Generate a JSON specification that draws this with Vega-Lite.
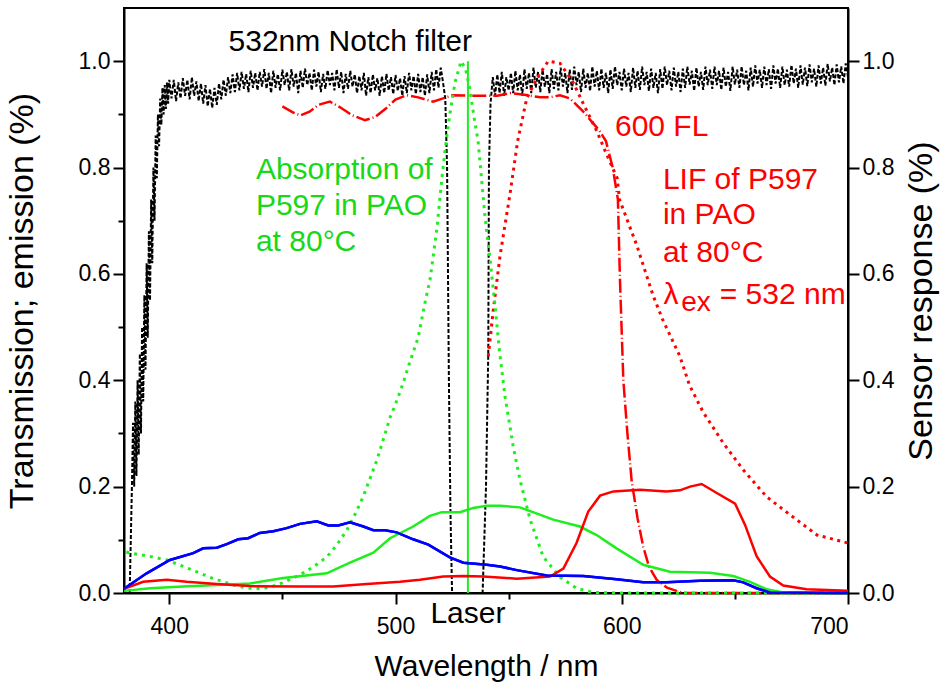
{
"$schema": "https://vega.github.io/schema/vega-lite/v6.json",
"width": 724, "height": 585,
"autosize": {"type": "none"},
"padding": {"left": 124, "top": 8, "right": 92, "bottom": 91},
"background": "white",
"config": {
  "font": "Liberation Sans",
  "view": {"stroke": "black", "strokeWidth": 2},
  "axis": {"grid": false, "domainColor": "black", "domainWidth": 2, "tickColor": "black", "tickWidth": 2, "labelColor": "black", "titleColor": "black", "labelFontSize": 23, "titleFontSize": 30, "titleFontWeight": "normal", "labelFont": "Liberation Sans", "titleFont": "Liberation Sans"}
},
"datasets": {
  "notch": [
    {"wl":382.5,"v":0.0},{"wl":383,"v":0.1},{"wl":383.5,"v":0.2},{"wl":384,"v":0.32},{"wl":384.5,"v":0.2},{"wl":385,"v":0.36},{"wl":385.5,"v":0.22},{"wl":386,"v":0.4},{"wl":386.5,"v":0.26},{"wl":387,"v":0.45},{"wl":387.5,"v":0.3},{"wl":388,"v":0.5},{"wl":388.5,"v":0.36},{"wl":389,"v":0.56},{"wl":389.5,"v":0.42},{"wl":390,"v":0.62},{"wl":390.5,"v":0.48},{"wl":391,"v":0.68},{"wl":391.5,"v":0.55},{"wl":392,"v":0.74},{"wl":392.5,"v":0.62},{"wl":393,"v":0.8},{"wl":393.5,"v":0.7},{"wl":394,"v":0.86},{"wl":394.5,"v":0.78},{"wl":395,"v":0.9},{"wl":395.5,"v":0.84},{"wl":396,"v":0.93},{"wl":396.5,"v":0.88},{"wl":397,"v":0.95},{"wl":397.5,"v":0.9},{"wl":398,"v":0.955},{"wl":398.5,"v":0.91},{"wl":399,"v":0.96},{"wl":399.5,"v":0.92},{"wl":400,"v":0.965},
    {"wl":401,"v":0.93},{"wl":402,"v":0.965},{"wl":403,"v":0.925},{"wl":404,"v":0.96},{"wl":405,"v":0.93},{"wl":406,"v":0.968},{"wl":407,"v":0.935},{"wl":408,"v":0.965},{"wl":409,"v":0.928},{"wl":410,"v":0.97},
    {"wl":411,"v":0.935},{"wl":412,"v":0.962},{"wl":413,"v":0.925},{"wl":414,"v":0.958},{"wl":415,"v":0.92},{"wl":416,"v":0.955},{"wl":417,"v":0.915},{"wl":418,"v":0.948},{"wl":419,"v":0.912},{"wl":420,"v":0.95},
    {"wl":421,"v":0.918},{"wl":422,"v":0.958},{"wl":423,"v":0.928},{"wl":424,"v":0.965},{"wl":425,"v":0.935},{"wl":426,"v":0.97},{"wl":427,"v":0.94},{"wl":428,"v":0.975},{"wl":429,"v":0.942},{"wl":430,"v":0.978},
    {"wl":431,"v":0.945},{"wl":432,"v":0.98},{"wl":433,"v":0.948},{"wl":434,"v":0.976},{"wl":435,"v":0.942},{"wl":436,"v":0.982},{"wl":437,"v":0.95},{"wl":438,"v":0.978},{"wl":439,"v":0.945},{"wl":440,"v":0.98},
    {"wl":441,"v":0.952},{"wl":442,"v":0.985},{"wl":443,"v":0.948},{"wl":444,"v":0.978},{"wl":445,"v":0.94},{"wl":446,"v":0.982},{"wl":447,"v":0.95},{"wl":448,"v":0.976},{"wl":449,"v":0.945},{"wl":450,"v":0.984},
    {"wl":451,"v":0.955},{"wl":452,"v":0.98},{"wl":453,"v":0.945},{"wl":454,"v":0.985},{"wl":455,"v":0.952},{"wl":456,"v":0.978},{"wl":457,"v":0.94},{"wl":458,"v":0.982},{"wl":459,"v":0.95},{"wl":460,"v":0.986},
    {"wl":461,"v":0.955},{"wl":462,"v":0.978},{"wl":463,"v":0.945},{"wl":464,"v":0.984},{"wl":465,"v":0.952},{"wl":466,"v":0.98},{"wl":467,"v":0.942},{"wl":468,"v":0.976},{"wl":469,"v":0.948},{"wl":470,"v":0.983},
    {"wl":471,"v":0.955},{"wl":472,"v":0.978},{"wl":473,"v":0.945},{"wl":474,"v":0.985},{"wl":475,"v":0.95},{"wl":476,"v":0.98},{"wl":477,"v":0.94},{"wl":478,"v":0.976},{"wl":479,"v":0.948},{"wl":480,"v":0.982},
    {"wl":481,"v":0.952},{"wl":482,"v":0.975},{"wl":483,"v":0.94},{"wl":484,"v":0.972},{"wl":485,"v":0.945},{"wl":486,"v":0.978},{"wl":487,"v":0.935},{"wl":488,"v":0.97},{"wl":489,"v":0.94},{"wl":490,"v":0.975},
    {"wl":491,"v":0.945},{"wl":492,"v":0.968},{"wl":493,"v":0.935},{"wl":494,"v":0.972},{"wl":495,"v":0.94},{"wl":496,"v":0.976},{"wl":497,"v":0.945},{"wl":498,"v":0.97},{"wl":499,"v":0.938},{"wl":500,"v":0.974},
    {"wl":501,"v":0.944},{"wl":502,"v":0.968},{"wl":503,"v":0.935},{"wl":504,"v":0.972},{"wl":505,"v":0.94},{"wl":506,"v":0.978},{"wl":507,"v":0.945},{"wl":508,"v":0.972},{"wl":509,"v":0.938},{"wl":510,"v":0.976},
    {"wl":511,"v":0.942},{"wl":512,"v":0.97},{"wl":513,"v":0.935},{"wl":514,"v":0.975},{"wl":515,"v":0.94},{"wl":516,"v":0.98},{"wl":517,"v":0.945},{"wl":518,"v":0.985},{"wl":519,"v":0.95},{"wl":520,"v":0.988},
    {"wl":521,"v":0.96},{"wl":522,"v":0.93},{"wl":522.8,"v":0.8},{"wl":523.2,"v":0.6},{"wl":523.6,"v":0.4},{"wl":524.3,"v":0.15},{"wl":525,"v":0.0},{"wl":530,"v":0.0},{"wl":538.5,"v":0.0},
    {"wl":540,"v":0.2},{"wl":541,"v":0.45},{"wl":541.3,"v":0.8},{"wl":542,"v":0.92},{"wl":543,"v":0.97},{"wl":544,"v":0.935},{"wl":545,"v":0.975},{"wl":546,"v":0.94},{"wl":547,"v":0.98},{"wl":548,"v":0.935},{"wl":549,"v":0.97},{"wl":550,"v":0.945},
    {"wl":551,"v":0.978},{"wl":552,"v":0.94},{"wl":553,"v":0.982},{"wl":554,"v":0.945},{"wl":555,"v":0.975},{"wl":556,"v":0.935},{"wl":557,"v":0.985},{"wl":558,"v":0.948},{"wl":559,"v":0.978},{"wl":560,"v":0.94},
    {"wl":561,"v":0.988},{"wl":562,"v":0.95},{"wl":563,"v":0.98},{"wl":564,"v":0.942},{"wl":565,"v":0.984},{"wl":566,"v":0.952},{"wl":567,"v":0.976},{"wl":568,"v":0.94},{"wl":569,"v":0.985},{"wl":570,"v":0.948},
    {"wl":571,"v":0.98},{"wl":572,"v":0.945},{"wl":573,"v":0.988},{"wl":574,"v":0.952},{"wl":575,"v":0.978},{"wl":576,"v":0.94},{"wl":577,"v":0.984},{"wl":578,"v":0.946},{"wl":579,"v":0.99},{"wl":580,"v":0.955},
    {"wl":581,"v":0.98},{"wl":582,"v":0.942},{"wl":583,"v":0.986},{"wl":584,"v":0.95},{"wl":585,"v":0.978},{"wl":586,"v":0.944},{"wl":587,"v":0.99},{"wl":588,"v":0.952},{"wl":589,"v":0.982},{"wl":590,"v":0.945},
    {"wl":591,"v":0.986},{"wl":592,"v":0.95},{"wl":593,"v":0.978},{"wl":594,"v":0.94},{"wl":595,"v":0.984},{"wl":596,"v":0.948},{"wl":597,"v":0.99},{"wl":598,"v":0.955},{"wl":599,"v":0.98},{"wl":600,"v":0.945},
    {"wl":601,"v":0.986},{"wl":602,"v":0.952},{"wl":603,"v":0.978},{"wl":604,"v":0.942},{"wl":605,"v":0.988},{"wl":606,"v":0.95},{"wl":607,"v":0.982},{"wl":608,"v":0.946},{"wl":609,"v":0.99},{"wl":610,"v":0.955},
    {"wl":611,"v":0.98},{"wl":612,"v":0.944},{"wl":613,"v":0.986},{"wl":614,"v":0.95},{"wl":615,"v":0.978},{"wl":616,"v":0.94},{"wl":617,"v":0.985},{"wl":618,"v":0.948},{"wl":619,"v":0.99},{"wl":620,"v":0.955},
    {"wl":621,"v":0.982},{"wl":622,"v":0.945},{"wl":623,"v":0.988},{"wl":624,"v":0.952},{"wl":625,"v":0.98},{"wl":626,"v":0.942},{"wl":627,"v":0.986},{"wl":628,"v":0.95},{"wl":629,"v":0.99},{"wl":630,"v":0.956},
    {"wl":631,"v":0.982},{"wl":632,"v":0.944},{"wl":633,"v":0.988},{"wl":634,"v":0.952},{"wl":635,"v":0.98},{"wl":636,"v":0.946},{"wl":637,"v":0.99},{"wl":638,"v":0.955},{"wl":639,"v":0.984},{"wl":640,"v":0.948},
    {"wl":641,"v":0.99},{"wl":642,"v":0.955},{"wl":643,"v":0.982},{"wl":644,"v":0.946},{"wl":645,"v":0.988},{"wl":646,"v":0.952},{"wl":647,"v":0.98},{"wl":648,"v":0.944},{"wl":649,"v":0.99},{"wl":650,"v":0.956},
    {"wl":651,"v":0.984},{"wl":652,"v":0.95},{"wl":653,"v":0.99},{"wl":654,"v":0.955},{"wl":655,"v":0.982},{"wl":656,"v":0.945},{"wl":657,"v":0.988},{"wl":658,"v":0.952},{"wl":659,"v":0.992},{"wl":660,"v":0.958},
    {"wl":661,"v":0.984},{"wl":662,"v":0.95},{"wl":663,"v":0.99},{"wl":664,"v":0.955},{"wl":665,"v":0.985},{"wl":666,"v":0.948},{"wl":667,"v":0.992},{"wl":668,"v":0.958},{"wl":669,"v":0.986},{"wl":670,"v":0.95},
    {"wl":671,"v":0.99},{"wl":672,"v":0.955},{"wl":673,"v":0.984},{"wl":674,"v":0.952},{"wl":675,"v":0.993},{"wl":676,"v":0.958},{"wl":677,"v":0.986},{"wl":678,"v":0.95},{"wl":679,"v":0.992},{"wl":680,"v":0.956},
    {"wl":681,"v":0.988},{"wl":682,"v":0.953},{"wl":683,"v":0.994},{"wl":684,"v":0.96},{"wl":685,"v":0.986},{"wl":686,"v":0.952},{"wl":687,"v":0.992},{"wl":688,"v":0.958},{"wl":689,"v":0.988},{"wl":690,"v":0.954},
    {"wl":691,"v":0.995},{"wl":692,"v":0.962},{"wl":693,"v":0.988},{"wl":694,"v":0.955},{"wl":695,"v":0.994},{"wl":696,"v":0.96},{"wl":697,"v":0.99},{"wl":698,"v":0.958},{"wl":699,"v":0.996},{"wl":700,"v":0.97}
  ],
  "fl600": [
    {"wl":450,"v":0.915},{"wl":455,"v":0.903},{"wl":458,"v":0.898},{"wl":462,"v":0.905},{"wl":466,"v":0.918},{"wl":471,"v":0.924},{"wl":476,"v":0.912},{"wl":481,"v":0.898},{"wl":486.5,"v":0.889},{"wl":491,"v":0.895},{"wl":496,"v":0.912},{"wl":500,"v":0.928},{"wl":505,"v":0.936},{"wl":510,"v":0.932},{"wl":516.6,"v":0.924},{"wl":521,"v":0.93},{"wl":525,"v":0.936},{"wl":535,"v":0.935},{"wl":545,"v":0.935},{"wl":550.6,"v":0.94},{"wl":557,"v":0.937},{"wl":564,"v":0.932},{"wl":568,"v":0.932},{"wl":572.7,"v":0.936},{"wl":577,"v":0.93},{"wl":580,"v":0.918},{"wl":583,"v":0.905},{"wl":587.4,"v":0.883},{"wl":590,"v":0.87},{"wl":593,"v":0.85},{"wl":596,"v":0.8},{"wl":598.3,"v":0.74},{"wl":599.2,"v":0.59},{"wl":600.7,"v":0.4},{"wl":602.5,"v":0.3},{"wl":604.4,"v":0.21},{"wl":607,"v":0.14},{"wl":609.5,"v":0.087},{"wl":612,"v":0.05},{"wl":615.4,"v":0.025},{"wl":620,"v":0.01},{"wl":627,"v":0.0},{"wl":700,"v":0.0}
  ],
  "lif": [
    {"wl":541,"v":0.445},{"wl":543.1,"v":0.528},{"wl":546.2,"v":0.634},{"wl":550.6,"v":0.75},{"wl":554,"v":0.85},{"wl":558,"v":0.93},{"wl":562.5,"v":0.968},{"wl":567.5,"v":1.0},{"wl":572.7,"v":0.996},{"wl":578.5,"v":0.96},{"wl":583,"v":0.92},{"wl":589,"v":0.868},{"wl":593.5,"v":0.823},{"wl":598,"v":0.78},{"wl":599,"v":0.74},{"wl":606.7,"v":0.653},{"wl":613.8,"v":0.56},{"wl":618,"v":0.515},{"wl":625.7,"v":0.445},{"wl":630,"v":0.39},{"wl":636,"v":0.34},{"wl":644.7,"v":0.283},{"wl":653.6,"v":0.232},{"wl":664,"v":0.181},{"wl":674.4,"v":0.147},{"wl":686.3,"v":0.109},{"wl":700,"v":0.094}
  ],
  "absorb": [
    {"wl":381,"v":0.077},{"wl":383,"v":0.075},{"wl":390,"v":0.07},{"wl":399,"v":0.062},{"wl":405,"v":0.052},{"wl":412,"v":0.04},{"wl":419,"v":0.028},{"wl":425.5,"v":0.019},{"wl":430,"v":0.013},{"wl":435.7,"v":0.009},{"wl":440,"v":0.008},{"wl":444.5,"v":0.011},{"wl":450,"v":0.019},{"wl":457.8,"v":0.034},{"wl":464,"v":0.05},{"wl":469.7,"v":0.068},{"wl":474,"v":0.09},{"wl":478.6,"v":0.119},{"wl":482,"v":0.147},{"wl":485.6,"v":0.18},{"wl":488.7,"v":0.215},{"wl":491.8,"v":0.25},{"wl":494.7,"v":0.29},{"wl":497.6,"v":0.33},{"wl":500,"v":0.355},{"wl":503,"v":0.39},{"wl":506,"v":0.43},{"wl":510,"v":0.48},{"wl":513,"v":0.545},{"wl":515.3,"v":0.59},{"wl":518.3,"v":0.685},{"wl":520.5,"v":0.779},{"wl":522,"v":0.836},{"wl":524,"v":0.9},{"wl":526.3,"v":0.96},{"wl":529,"v":1.0},{"wl":531,"v":0.985},{"wl":533,"v":0.945},{"wl":534.5,"v":0.9},{"wl":536.5,"v":0.85},{"wl":538,"v":0.78},{"wl":539.5,"v":0.71},{"wl":541.7,"v":0.63},{"wl":544,"v":0.54},{"wl":546,"v":0.453},{"wl":548.4,"v":0.37},{"wl":552,"v":0.276},{"wl":555,"v":0.213},{"wl":559.5,"v":0.138},{"wl":565.3,"v":0.068},{"wl":572.7,"v":0.03},{"wl":580,"v":0.009},{"wl":587.3,"v":0.001},{"wl":600,"v":0.0},{"wl":700,"v":0.0}
  ],
  "laser": [{"wl":532,"v":0.0},{"wl":532,"v":1.0}],
  "blue": [
    {"wl":380,"v":0.008},{"wl":390,"v":0.037},{"wl":400.3,"v":0.062},{"wl":410.6,"v":0.075},{"wl":415,"v":0.084},{"wl":421,"v":0.085},{"wl":425.4,"v":0.092},{"wl":430.5,"v":0.101},{"wl":434.9,"v":0.103},{"wl":440,"v":0.113},{"wl":446,"v":0.116},{"wl":451.9,"v":0.122},{"wl":457.8,"v":0.13},{"wl":465.2,"v":0.135},{"wl":470.3,"v":0.127},{"wl":474.7,"v":0.127},{"wl":479.9,"v":0.133},{"wl":485.8,"v":0.125},{"wl":490.2,"v":0.118},{"wl":495.4,"v":0.118},{"wl":500.5,"v":0.114},{"wl":507.8,"v":0.101},{"wl":514.5,"v":0.091},{"wl":524,"v":0.067},{"wl":530,"v":0.057},{"wl":540.3,"v":0.053},{"wl":546.2,"v":0.05},{"wl":553.6,"v":0.043},{"wl":566.8,"v":0.033},{"wl":583,"v":0.032},{"wl":597.7,"v":0.026},{"wl":609.5,"v":0.02},{"wl":619.8,"v":0.02},{"wl":634.6,"v":0.023},{"wl":649.3,"v":0.024},{"wl":653.7,"v":0.02},{"wl":659.6,"v":0.009},{"wl":665.5,"v":0.001},{"wl":700,"v":0.0}
  ],
  "green": [
    {"wl":380,"v":0.004},{"wl":391.5,"v":0.009},{"wl":406.2,"v":0.012},{"wl":421,"v":0.015},{"wl":435.7,"v":0.018},{"wl":450.4,"v":0.028},{"wl":469.6,"v":0.037},{"wl":479.9,"v":0.057},{"wl":490.2,"v":0.076},{"wl":497.6,"v":0.103},{"wl":507.8,"v":0.125},{"wl":515.2,"v":0.145},{"wl":520.4,"v":0.152},{"wl":528.5,"v":0.152},{"wl":534.4,"v":0.16},{"wl":540.3,"v":0.164},{"wl":546.2,"v":0.164},{"wl":555,"v":0.161},{"wl":569.7,"v":0.138},{"wl":581.5,"v":0.125},{"wl":588.9,"v":0.109},{"wl":597.7,"v":0.084},{"wl":609.5,"v":0.053},{"wl":621.3,"v":0.04},{"wl":639,"v":0.038},{"wl":649.3,"v":0.032},{"wl":656.7,"v":0.021},{"wl":664,"v":0.007},{"wl":671.4,"v":0.001},{"wl":700,"v":0.0}
  ],
  "red": [
    {"wl":380,"v":0.008},{"wl":388.5,"v":0.021},{"wl":398.9,"v":0.025},{"wl":407.7,"v":0.021},{"wl":421,"v":0.017},{"wl":435.7,"v":0.013},{"wl":457.8,"v":0.012},{"wl":472.5,"v":0.012},{"wl":487.3,"v":0.017},{"wl":502,"v":0.021},{"wl":510.8,"v":0.025},{"wl":521.1,"v":0.031},{"wl":530,"v":0.032},{"wl":538.8,"v":0.031},{"wl":553.6,"v":0.027},{"wl":568.3,"v":0.031},{"wl":574.2,"v":0.046},{"wl":580,"v":0.094},{"wl":585.2,"v":0.153},{"wl":590.4,"v":0.183},{"wl":596.3,"v":0.191},{"wl":608.1,"v":0.194},{"wl":619.8,"v":0.191},{"wl":625.7,"v":0.193},{"wl":630.2,"v":0.2},{"wl":635.3,"v":0.205},{"wl":642,"v":0.188},{"wl":650.1,"v":0.168},{"wl":654.5,"v":0.128},{"wl":659.6,"v":0.069},{"wl":665.5,"v":0.031},{"wl":671.4,"v":0.014},{"wl":681.7,"v":0.007},{"wl":700,"v":0.004}
  ],
  "txtBlack": [{"t":"532nm Notch filter","wl":480,"v":1.036},{"t":"Laser","wl":532,"v":-0.04}],
  "txtGreen": [{"t":"Absorption of","wl":438.3,"v":0.796},{"t":"P597 in PAO","wl":438.3,"v":0.728},{"t":"at 80°C","wl":438.3,"v":0.66}],
  "txtRed": [{"t":"600 FL","wl":597,"v":0.877},{"t":"LIF of P597","wl":618.2,"v":0.777},{"t":"in PAO","wl":618.2,"v":0.711},{"t":"at 80°C","wl":618.2,"v":0.64},{"t":"λ","wl":618.5,"v":0.56},{"t":"= 532 nm","wl":643.3,"v":0.56}],
  "txtSub": [{"t":"ex","wl":626.3,"v":0.546}]
},
"layer": [
  {
    "layer": [
      {"data": {"name": "notch"}, "mark": {"type": "line", "color": "black", "strokeWidth": 2, "strokeDash": [4, 2]},
       "encoding": {
         "x": {"field": "wl", "type": "quantitative", "scale": {"domain": [380, 700], "nice": false, "zero": false},
               "axis": {"title": "Wavelength / nm", "values": [400, 450, 500, 550, 600, 650, 700],
                        "labelExpr": "datum.value % 100 == 0 ? datum.value : ''",
                        "tickSize": {"condition": {"test": "datum.value % 100 == 0", "value": 11}, "value": 6},
                        "labelPadding": 11, "titlePadding": 13}},
         "y": {"field": "v", "type": "quantitative", "scale": {"domain": [0, 1.1], "nice": false},
               "axis": {"title": "Transmission; emission (%)", "titleFontSize": 34, "values": [0, 0.1, 0.2, 0.3, 0.4, 0.5, 0.6, 0.7, 0.8, 0.9, 1.0],
                        "labelExpr": "round(datum.value*10) % 2 == 0 ? format(datum.value, '.1f') : ''",
                        "tickSize": {"condition": {"test": "round(datum.value*10) % 2 == 0", "value": 11}, "value": 6},
                        "labelPadding": 3, "titlePadding": 39}}
       }},
      {"data": {"name": "fl600"}, "mark": {"type": "line", "color": "#FF0000", "strokeWidth": 2.5, "strokeDash": [14, 3, 1, 3]},
       "encoding": {"x": {"field": "wl", "type": "quantitative"}, "y": {"field": "v", "type": "quantitative"}}},
      {"data": {"name": "lif"}, "mark": {"type": "line", "color": "#FF0000", "strokeWidth": 3, "strokeDash": [3, 4.5]},
       "encoding": {"x": {"field": "wl", "type": "quantitative"}, "y": {"field": "v", "type": "quantitative"}}},
      {"data": {"name": "absorb"}, "mark": {"type": "line", "color": "#1EEE1E", "strokeWidth": 3, "strokeDash": [3, 5]},
       "encoding": {"x": {"field": "wl", "type": "quantitative"}, "y": {"field": "v", "type": "quantitative"}}},
      {"data": {"name": "laser"}, "mark": {"type": "line", "color": "#1EEE1E", "strokeWidth": 2},
       "encoding": {"x": {"field": "wl", "type": "quantitative"}, "y": {"field": "v", "type": "quantitative"}}},
      {"data": {"name": "blue"}, "mark": {"type": "line", "color": "#0000FF", "strokeWidth": 2.5},
       "encoding": {"x": {"field": "wl", "type": "quantitative"}, "y": {"field": "v", "type": "quantitative"}}},
      {"data": {"name": "green"}, "mark": {"type": "line", "color": "#1EEE1E", "strokeWidth": 2.5},
       "encoding": {"x": {"field": "wl", "type": "quantitative"}, "y": {"field": "v", "type": "quantitative"}}},
      {"data": {"name": "red"}, "mark": {"type": "line", "color": "#FF0000", "strokeWidth": 2.5},
       "encoding": {"x": {"field": "wl", "type": "quantitative"}, "y": {"field": "v", "type": "quantitative"}}},
      {"data": {"name": "txtBlack"}, "mark": {"type": "text", "color": "black", "fontSize": 30, "align": "center", "baseline": "middle"},
       "encoding": {"x": {"field": "wl", "type": "quantitative"}, "y": {"field": "v", "type": "quantitative"}, "text": {"field": "t"}}},
      {"data": {"name": "txtGreen"}, "mark": {"type": "text", "color": "#18D818", "fontSize": 30, "align": "left", "baseline": "middle"},
       "encoding": {"x": {"field": "wl", "type": "quantitative"}, "y": {"field": "v", "type": "quantitative"}, "text": {"field": "t"}}},
      {"data": {"name": "txtRed"}, "mark": {"type": "text", "color": "#FF0000", "fontSize": 30, "align": "left", "baseline": "middle"},
       "encoding": {"x": {"field": "wl", "type": "quantitative"}, "y": {"field": "v", "type": "quantitative"}, "text": {"field": "t"}}},
      {"data": {"name": "txtSub"}, "mark": {"type": "text", "color": "#FF0000", "fontSize": 28, "align": "left", "baseline": "middle"},
       "encoding": {"x": {"field": "wl", "type": "quantitative"}, "y": {"field": "v", "type": "quantitative"}, "text": {"field": "t"}}}
    ]
  },
  {
    "data": {"name": "blue"},
    "mark": {"type": "line", "color": "#0000FF", "strokeWidth": 2.5},
    "encoding": {
      "x": {"field": "wl", "type": "quantitative"},
      "y": {"field": "v", "type": "quantitative", "scale": {"domain": [0, 1.1], "nice": false},
            "axis": {"orient": "right", "title": "Sensor response (%)", "titleFontSize": 34, "titleAngle": 270, "values": [0, 0.2, 0.4, 0.6, 0.8, 1.0], "format": ".1f", "tickSize": 11, "labelPadding": 3, "titlePadding": 45}}
    }
  }
],
"resolve": {"scale": {"y": "independent"}}
}
